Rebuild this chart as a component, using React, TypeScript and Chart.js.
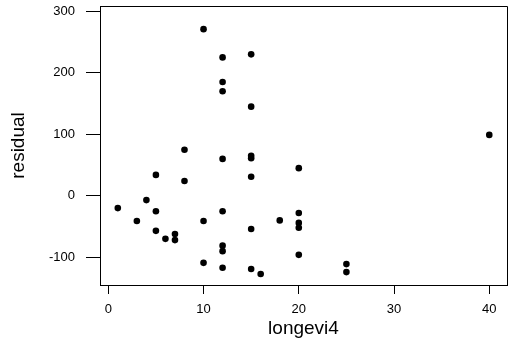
import React, { useEffect, useRef } from "react";
import { Chart, registerables } from "chart.js";

Chart.register(...registerables);

const longevi4: number[] = [
  1, 3, 4, 5, 5, 5, 6, 7, 7, 8, 8, 10, 10, 10, 12, 12, 12, 12, 12, 12, 12, 12,
  15, 15, 15, 15, 15, 15, 15, 16, 18, 20, 20, 20, 20, 20, 25, 25, 40,
];
const residual: number[] = [
  -20, -41, -7, 34, -25, -57, -70, -62, -72, 75, 24, 271, -41, -109, 225, 185,
  170, 60, -25, -81, -90, -117, 230, 145, 65, 61, 31, -54, -119, -127, -40, 45,
  -28, -44, -52, -96, -111, -124, 99,
];
const xTickValues: number[] = [0, 10, 20, 30, 40];
const yTickValues: number[] = [-100, 0, 100, 200, 300];

const FONT = "'Liberation Sans', Arial, sans-serif";

const boxPlugin = {
  id: "boxPlugin",
  afterDraw(chart: any) {
    const { ctx, chartArea } = chart;
    const l = Math.round(chartArea.left) + 0.5;
    const t = Math.round(chartArea.top) + 0.5;
    const r = Math.round(chartArea.right) + 0.5;
    const b = Math.round(chartArea.bottom) + 0.5;
    ctx.save();
    ctx.strokeStyle = "#000";
    ctx.lineWidth = 1;
    ctx.beginPath();
    ctx.moveTo(l, t);
    ctx.lineTo(r, t);
    ctx.lineTo(r, b);
    ctx.stroke();
    ctx.restore();
  },
};

export default function App() {
  const ref = useRef<HTMLCanvasElement | null>(null);

  useEffect(() => {
    if (!ref.current) return;
    const points = longevi4.map((x, i) => ({ x, y: residual[i] }));
    const chart = new Chart(ref.current, {
      type: "scatter",
      data: {
        datasets: [
          {
            data: points,
            backgroundColor: "#000",
            borderColor: "#000",
            borderWidth: 0,
            pointRadius: 3.3,
          },
        ],
      },
      plugins: [boxPlugin],
      options: {
        animation: false,
        responsive: false,
        maintainAspectRatio: false,
        layout: { padding: { left: 0, top: 6, right: 10, bottom: 0 } },
        plugins: { legend: { display: false }, tooltip: { enabled: false } },
        scales: {
          x: {
            type: "linear",
            min: -0.87,
            max: 41.86,
            afterFit: (s: any) => {
              s.height = 67;
              s.paddingLeft = 0;
              s.paddingRight = 0;
            },
            afterBuildTicks: (s: any) => {
              s.ticks = xTickValues.map((v) => ({ value: v }));
            },
            ticks: {
              stepSize: 10,
              includeBounds: false,
              color: "#000",
              padding: 8,
              maxRotation: 0,
              font: { family: FONT, size: 13 },
            },
            grid: {
              drawOnChartArea: false,
              drawTicks: true,
              tickLength: 9,
              color: "#000",
            },
            border: { display: true, color: "#000", width: 1 },
            title: {
              display: true,
              text: "longevi4",
              color: "#000",
              font: { family: FONT, size: 19 },
              padding: { top: 0, bottom: 12 },
            },
          },
          y: {
            type: "linear",
            min: -145,
            max: 308.6,
            afterFit: (s: any) => {
              s.width = 100;
              s.paddingTop = 0;
              s.paddingBottom = 0;
            },
            afterBuildTicks: (s: any) => {
              s.ticks = yTickValues.map((v) => ({ value: v }));
            },
            ticks: {
              stepSize: 100,
              includeBounds: false,
              color: "#000",
              padding: 11,
              font: { family: FONT, size: 13 },
            },
            grid: {
              drawOnChartArea: false,
              drawTicks: true,
              tickLength: 14,
              color: "#000",
            },
            border: { display: true, color: "#000", width: 1 },
            title: {
              display: true,
              text: "residual",
              color: "#000",
              font: { family: FONT, size: 19 },
              padding: { top: 7, bottom: 0 },
            },
          },
        },
      },
    });
    return () => chart.destroy();
  }, []);

  return (
    <div
      style={{
        position: "absolute",
        left: 0,
        top: 0,
        width: 517,
        height: 352,
        background: "#fff",
      }}
    >
      <canvas ref={ref} width={517} height={352} />
    </div>
  );
}
